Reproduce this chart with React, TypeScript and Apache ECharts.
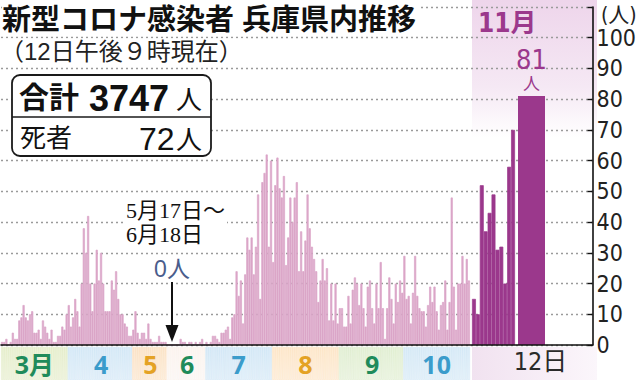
import React, { useEffect, useRef } from "react";
import * as echarts from "echarts";

// ---- data (daily new cases) ----
const marchCases = [1, 1, 2, 0, 1, 4, 2, 2, 8, 9, 13, 9, 8, 10, 11, 4, 4, 5, 2, 8, 6, 4, 2, 5, 1, 1, 3, 3, 6, 5, 10];
const aprilCases = [13, 6, 9, 15, 11, 6, 20, 38, 30, 42, 20, 11, 20, 31, 21, 30, 20, 11, 11, 11, 21, 18, 24, 15, 10, 10, 7, 6, 3, 3];
const mayCases = [5, 11, 4, 2, 4, 4, 2, 7, 2, 1, 1, 1, 3, 1, 1, 1]; // 5/1 - 5/16
const zeroPeriodCases = [0, 0, 0, 0, 0, 0]; // 5/17 - 6/18 (shown compressed)
const juneCases = [2, 1, 1, 0, 1, 1, 0, 1, 0, 1, 2, 0]; // 6/19 - 6/30
const julyCases = [1, 0, 1, 3, 3, 2, 1, 4, 4, 5, 6, 2, 9, 10, 24, 16, 21, 7, 23, 35, 31, 35, 23, 32, 49, 15, 53, 56, 62, 32, 60];
const augustCases = [27, 52, 61, 51, 48, 55, 26, 35, 48, 40, 48, 53, 24, 37, 24, 34, 49, 38, 32, 28, 24, 14, 21, 28, 21, 25, 8, 20, 8, 20, 7];
const septemberCases = [12, 12, 6, 6, 16, 7, 18, 22, 20, 13, 20, 12, 6, 19, 21, 12, 7, 20, 12, 27, 12, 2, 12, 22, 15, 7, 20, 14, 21, 17];
const octoberCases = [29, 15, 16, 7, 17, 29, 16, 12, 11, 11, 6, 13, 19, 14, 19, 11, 5, 13, 14, 21, 5, 14, 48, 19, 5, 20, 20, 29, 20, 28, 21];
const novemberDays = ["11/1", "11/2", "11/3", "11/4", "11/5", "11/6", "11/7", "11/8", "11/9", "11/10", "11/11"];
const novemberCases = [15, 10, 52, 37, 43, 49, 31, 32, 20, 58, 70];
const latestDay = ["11/12"];
const latestCases = [81];
const latestDayLabel = "12日";
const monthLabels = ["3月", "4", "5", "6", "7", "8", "9", "10"];
const yTicks = [0, 10, 20, 30, 40, 50, 60, 70, 80, 90, 100];
const totalText = "3747";
const deathText = "72";

// ---- build categories ----
type Seg = { month: string; first: number; values: number[]; band: number; gap?: boolean };
const segments: Seg[] = [
  { month: "3", first: 1, values: marchCases, band: 0 },
  { month: "4", first: 1, values: aprilCases, band: 1 },
  { month: "5", first: 1, values: mayCases, band: 2 },
  { month: "gap", first: 1, values: zeroPeriodCases, band: 3, gap: true },
  { month: "6", first: 19, values: juneCases, band: 3 },
  { month: "7", first: 1, values: julyCases, band: 4 },
  { month: "8", first: 1, values: augustCases, band: 5 },
  { month: "9", first: 1, values: septemberCases, band: 6 },
  { month: "10", first: 1, values: octoberCases, band: 7 },
];
const categories: string[] = [];
const values: number[] = [];
const bandOf: number[] = [];
segments.forEach((s) => {
  s.values.forEach((v, i) => {
    categories.push(s.gap ? `5/17〜6/18 (${i + 1})` : `${s.month}/${s.first + i}`);
    values.push(v);
    bandOf.push(s.band);
  });
});

// ---- styles ----
const PINK = "#dba6c8";
const PURPLE = "#9b388c";
const NARROW = "'Liberation Sans Narrow','DejaVu Sans Condensed','Noto Sans CJK JP',sans-serif";
// Latin font first (compact metrics), CJK glyphs fall back to Noto Sans CJK JP
const JP = "'Liberation Sans','Noto Sans CJK JP',sans-serif";
const LATIN = "'Liberation Sans','Noto Sans','Noto Sans CJK JP',sans-serif";
const GREEN = "#1f8b5b";
const BLUE = "#3b9ccb";
const ORANGE = "#e4a224";
const labelColors = [GREEN, BLUE, ORANGE, GREEN, BLUE, ORANGE, GREEN, BLUE];
const bandColors: [string, string][] = [
  ["#e6efcc", "#f3f5e6"],
  ["#d3e8f6", "#ebf4fa"],
  ["#fbe3c6", "#fdf3e8"],
  ["#fcf4ee", "#fbfbfb"],
  ["#d3e8f6", "#ebf4fa"],
  ["#fde6c8", "#fdf3e8"],
  ["#e1efd2", "#f1f7ea"],
  ["#d5e9f6", "#ebf4fa"],
];

const TOP = 7;
const BOTTOM = 35;

function buildOption() {
  // band strip under the axis: one cell per category, coloured by month
  const midOf = monthLabels.map((_, b) => {
    const first = bandOf.indexOf(b);
    const endExcl = bandOf.lastIndexOf(b) + 1;
    return Math.floor((first + endExcl) / 2);
  });
  const bandSeriesData = categories.map((_, i) => {
    const b = bandOf[i];
    const color = new echarts.graphic.LinearGradient(0, 0, 0, 1, [
      { offset: 0, color: bandColors[b][0] },
      { offset: 1, color: bandColors[b][1] },
    ]);
    const item: any = { value: 1, itemStyle: { color, borderColor: bandColors[b][0], borderWidth: 0.6 } };
    if (midOf[b] === i) {
      item.label = { show: true, formatter: monthLabels[b], color: labelColors[b] };
    }
    return item;
  });

  const axisLineStyle = { color: "#111", width: 1.6 };

  return {
    animation: false,
    backgroundColor: "#ffffff",
    grid: [
      { left: 1, right: 42, top: TOP, bottom: BOTTOM },
      { left: 1, width: 469, top: TOP, bottom: BOTTOM },
      { left: 472, width: 43, top: TOP, bottom: BOTTOM },
      { left: 518, width: 27, top: TOP, bottom: BOTTOM },
      { left: 1, width: 469, top: 347, height: 33 },
    ],
    xAxis: [
      {
        gridIndex: 0,
        type: "value",
        min: 0,
        max: 1,
        axisLine: { show: true, onZero: false, lineStyle: axisLineStyle },
        axisTick: { show: false },
        axisLabel: { show: false },
        splitLine: { show: false },
        z: 5,
      },
      { gridIndex: 1, type: "category", data: categories, show: false },
      { gridIndex: 2, type: "category", data: novemberDays, show: false },
      {
        gridIndex: 3,
        type: "category",
        data: latestDay,
        axisLine: { show: false },
        axisTick: { show: false },
        splitLine: { show: false },
        axisLabel: {
          show: true,
          interval: 0,
          formatter: () => latestDayLabel,
          fontFamily: NARROW,
          fontSize: 25,
          color: "#2a2a2a",
          margin: 4,
          padding: [0, 0, 0, 18],
        },
      },
      { gridIndex: 4, type: "category", data: categories, show: false },
    ],
    yAxis: [
      {
        gridIndex: 0,
        type: "value",
        position: "right",
        min: 0,
        max: 110,
        interval: 10,
        axisLine: { show: true, onZero: false, lineStyle: axisLineStyle },
        axisTick: { show: true, inside: true, length: 5, lineStyle: { color: "#111", width: 1.4 } },
        axisLabel: {
          show: true,
          margin: 4,
          fontFamily: NARROW,
          fontSize: 23,
          color: "#222",
          formatter: (v: number) => (yTicks.includes(v) ? String(v) : ""),
        },
        splitLine: { show: true, lineStyle: { type: [2, 3], color: "#9a9a9a", width: 1.3 } },
      },
      { gridIndex: 1, type: "value", min: 0, max: 110, show: false },
      { gridIndex: 2, type: "value", min: 0, max: 110, show: false },
      { gridIndex: 3, type: "value", min: 0, max: 110, show: false },
      { gridIndex: 4, type: "value", min: 0, max: 1, show: false },
    ],
    series: [
      {
        type: "bar",
        xAxisIndex: 1,
        yAxisIndex: 1,
        data: values,
        barCategoryGap: "0%",
        itemStyle: { color: PINK, borderColor: PINK, borderWidth: 0.7 },
        silent: true,
      },
      {
        type: "bar",
        xAxisIndex: 2,
        yAxisIndex: 2,
        data: novemberCases,
        barCategoryGap: "0%",
        itemStyle: { color: PURPLE, borderColor: PURPLE, borderWidth: 0.7 },
        silent: true,
      },
      {
        type: "bar",
        xAxisIndex: 3,
        yAxisIndex: 3,
        data: latestCases,
        barCategoryGap: "0%",
        itemStyle: { color: PURPLE },
        silent: true,
        label: {
          show: true,
          position: "top",
          distance: 1,
          formatter: "{n|{c}}\n{u|人}",
          rich: {
            n: { fontSize: 27, fontFamily: NARROW, color: PURPLE, lineHeight: 30, align: "center" },
            u: { fontSize: 17, fontFamily: JP, color: PURPLE, lineHeight: 21, align: "center" },
          },
        },
      },
      {
        type: "bar",
        xAxisIndex: 4,
        yAxisIndex: 4,
        data: bandSeriesData,
        barCategoryGap: "0%",
        silent: true,
        label: {
          show: false,
          position: "inside",
          fontSize: 25,
          fontWeight: "bold",
          fontFamily: "'Noto Sans','Noto Sans CJK JP',sans-serif",
        },
      },
    ],
    graphic: [
      {
        type: "rect",
        z: -10,
        silent: true,
        shape: { x: 472, y: 0, width: 125, height: 345 },
        style: {
          fill: new echarts.graphic.LinearGradient(0, 0, 0, 1, [
            { offset: 0, color: "#eed5eb" },
            { offset: 0.25, color: "#f5e8f4" },
            { offset: 0.4, color: "#ffffff" },
            { offset: 1, color: "#ffffff" },
          ]),
        },
      },
      {
        type: "rect",
        z: -10,
        silent: true,
        shape: { x: 472, y: 347, width: 125, height: 33 },
        style: {
          fill: new echarts.graphic.LinearGradient(0, 0, 1, 0, [
            { offset: 0, color: "#f1e2f0" },
            { offset: 1, color: "#fbf6fb" },
          ]),
        },
      },
      // title
      {
        type: "text",
        z: 100,
        x: 2,
        y: 20,
        style: {
          text: "新型コロナ感染者 兵庫県内推移",
          font: `bold 29px ${JP}`,
          lineHeight: 30,
          fill: "#111",
          verticalAlign: "middle",
          backgroundColor: "#fff",
          padding: [0, 4, 0, 0],
        },
      },
      {
        type: "text",
        z: 100,
        x: 0,
        y: 51,
        style: {
          text: "（12日午後９時現在）",
          font: `normal 24px ${JP}`,
          lineHeight: 25,
          fill: "#222",
          verticalAlign: "middle",
          backgroundColor: "#fff",
          padding: [0, 4, 0, 0],
        },
      },
      // summary box
      {
        type: "rect",
        z: 100,
        shape: { x: 12, y: 75, width: 199, height: 81, r: 8 },
        style: { fill: "#fff", stroke: "#1a1a1a", lineWidth: 1.8 },
      },
      {
        type: "line",
        z: 101,
        shape: { x1: 12, y1: 117, x2: 211, y2: 117 },
        style: { stroke: "#1a1a1a", lineWidth: 1.6 },
      },
      {
        type: "text",
        z: 102,
        x: 19,
        y: 97,
        style: { text: "合計", font: `bold 30px ${JP}`, fill: "#111", verticalAlign: "middle" },
      },
      {
        type: "text",
        z: 102,
        x: 89,
        y: 98,
        style: { text: totalText, font: `bold 36px ${LATIN}`, fill: "#111", verticalAlign: "middle" },
      },
      {
        type: "text",
        z: 102,
        x: 176,
        y: 100,
        style: { text: "人", font: `normal 26px ${JP}`, fill: "#111", verticalAlign: "middle" },
      },
      {
        type: "text",
        z: 102,
        x: 20,
        y: 138,
        style: { text: "死者", font: `normal 26px ${JP}`, fill: "#111", verticalAlign: "middle" },
      },
      {
        type: "text",
        z: 102,
        x: 139,
        y: 139,
        style: { text: deathText, font: `normal 32px ${LATIN}`, fill: "#111", verticalAlign: "middle" },
      },
      {
        type: "text",
        z: 102,
        x: 176,
        y: 140,
        style: { text: "人", font: `normal 26px ${JP}`, fill: "#111", verticalAlign: "middle" },
      },
      // unit
      {
        type: "text",
        z: 100,
        x: 601,
        y: 15,
        style: { text: "(人)", font: `normal 21px ${NARROW}`, fill: "#222", verticalAlign: "middle" },
      },
      // November header
      {
        type: "text",
        z: 100,
        x: 478,
        y: 23,
        style: { text: "11月", font: `bold 26px ${NARROW}`, fill: PURPLE, verticalAlign: "middle" },
      },
      // zero-period annotation
      {
        type: "text",
        z: 100,
        x: 124,
        y: 198,
        style: {
          text: "5月17日〜\n6月18日",
          font: `normal 22px 'Liberation Serif','DejaVu Serif','Noto Sans CJK JP',serif`,
          lineHeight: 24,
          fill: "#111",
          verticalAlign: "top",
          backgroundColor: "#fff",
          padding: [0, 2, 0, 2],
        },
      },
      {
        type: "text",
        z: 100,
        x: 172,
        y: 269,
        style: {
          text: "0人",
          font: `normal 23px ${JP}`,
          lineHeight: 24,
          fill: "#4a5d8c",
          align: "center",
          verticalAlign: "middle",
          backgroundColor: "#fff",
        },
      },
      {
        type: "line",
        z: 100,
        shape: { x1: 172, y1: 282, x2: 172, y2: 330 },
        style: { stroke: "#111", lineWidth: 2 },
      },
      {
        type: "polygon",
        z: 100,
        shape: { points: [[165.5, 325], [178.5, 325], [172, 342]] },
        style: { fill: "#111" },
      },
    ],
  };
}

export default function App() {
  const ref = useRef<HTMLDivElement>(null);
  useEffect(() => {
    if (!ref.current) return;
    const chart = echarts.init(ref.current, null, { renderer: "svg" });
    chart.setOption(buildOption() as any);
    return () => chart.dispose();
  }, []);
  return (
    <div
      ref={ref}
      style={{ position: "fixed", left: 0, top: 0, width: 639, height: 380, background: "#fff" }}
    />
  );
}
